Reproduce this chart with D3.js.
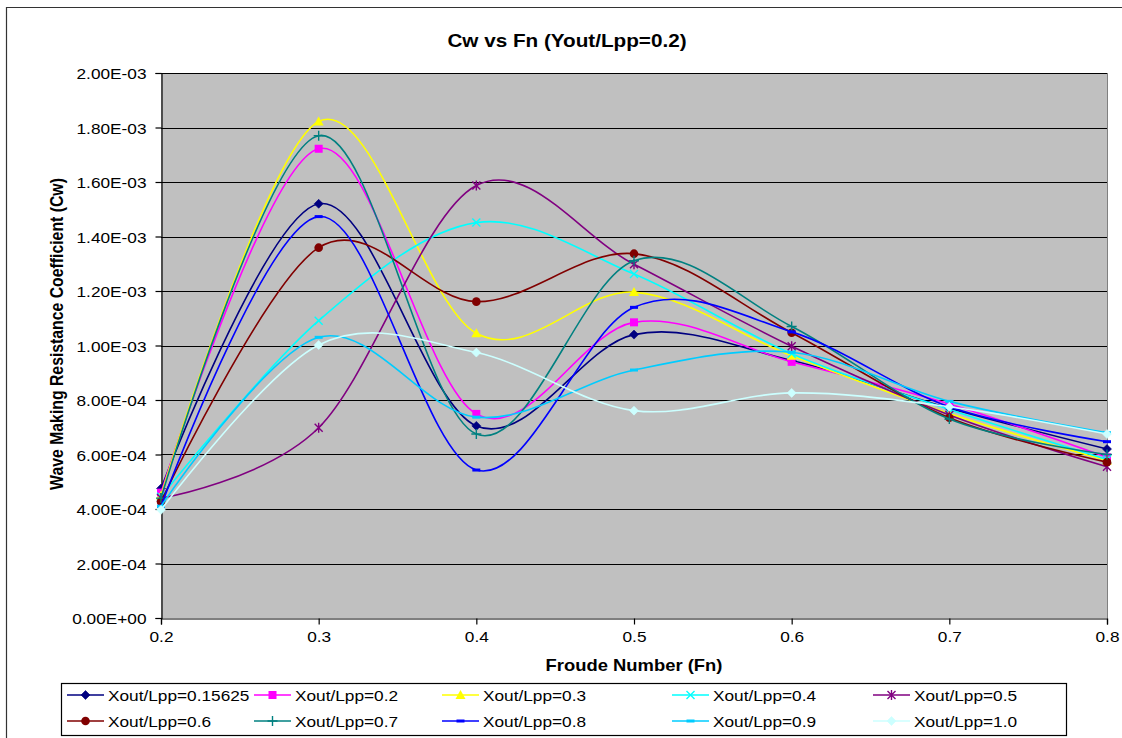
<!DOCTYPE html>
<html>
<head>
<meta charset="utf-8">
<script src="https://cdn.jsdelivr.net/npm/d3@7/dist/d3.min.js"></script>
<style>
  html, body { margin: 0; padding: 0; background: #fff; }
  svg { display: block; font-family: "Liberation Sans", Arial, sans-serif; }
</style>
</head>
<body>
<svg id="chart" width="1122" height="738"></svg>
<script>
// Froude numbers (x categories)
const froude = [0.2, 0.3, 0.4, 0.5, 0.6, 0.7, 0.8];

// Wave making resistance coefficient Cw per Xout/Lpp position
const cw015625 = [4.75e-4, 1.520e-3, 7.05e-4, 1.040e-3, 9.45e-4, 7.70e-4, 6.20e-4];
const cw02     = [4.60e-4, 1.722e-3, 7.49e-4, 1.085e-3, 9.40e-4, 7.85e-4, 5.90e-4];
const cw03     = [4.50e-4, 1.822e-3, 1.045e-3, 1.196e-3, 9.62e-4, 7.50e-4, 5.78e-4];
const cw04     = [4.45e-4, 1.091e-3, 1.451e-3, 1.262e-3, 9.70e-4, 7.65e-4, 5.82e-4];
const cw05     = [4.40e-4, 6.98e-4, 1.587e-3, 1.298e-3, 9.97e-4, 7.45e-4, 5.55e-4];
const cw06     = [4.27e-4, 1.359e-3, 1.161e-3, 1.337e-3, 1.047e-3, 7.35e-4, 5.72e-4];
const cw07     = [4.40e-4, 1.770e-3, 6.75e-4, 1.311e-3, 1.070e-3, 7.30e-4, 6.00e-4];
const cw08     = [4.10e-4, 1.473e-3, 5.43e-4, 1.140e-3, 1.050e-3, 7.75e-4, 6.47e-4];
const cw09     = [4.10e-4, 1.030e-3, 7.37e-4, 9.10e-4, 9.75e-4, 7.95e-4, 6.80e-4];
const cw10     = [3.97e-4, 1.002e-3, 9.74e-4, 7.61e-4, 8.26e-4, 7.75e-4, 6.75e-4];

const seriesNames = ["Xout/Lpp=0.15625", "Xout/Lpp=0.2", "Xout/Lpp=0.3", "Xout/Lpp=0.4", "Xout/Lpp=0.5",
                     "Xout/Lpp=0.6", "Xout/Lpp=0.7", "Xout/Lpp=0.8", "Xout/Lpp=0.9", "Xout/Lpp=1.0"];
const seriesValues = [cw015625, cw02, cw03, cw04, cw05, cw06, cw07, cw08, cw09, cw10];

// Axis ticks
const yTicks = [0, 2e-4, 4e-4, 6e-4, 8e-4, 1e-3, 1.2e-3, 1.4e-3, 1.6e-3, 1.8e-3, 2e-3];
const yTickLabels = ["0.00E+00", "2.00E-04", "4.00E-04", "6.00E-04", "8.00E-04", "1.00E-03",
                     "1.20E-03", "1.40E-03", "1.60E-03", "1.80E-03", "2.00E-03"];
const xTicks = [0.2, 0.3, 0.4, 0.5, 0.6, 0.7, 0.8];
const xTickLabels = ["0.2", "0.3", "0.4", "0.5", "0.6", "0.7", "0.8"];

const colors = ["#000080", "#FF00FF", "#FFFF00", "#00FFFF", "#800080",
                "#800000", "#008080", "#0000FF", "#00CCFF", "#CCFFFF"];
const markerKinds = ["diamond", "square", "triangle", "x", "star",
                     "circle", "plus", "dash", "dash", "diamond"];

const svg = d3.select("#chart");
const SX = 1.15; // horizontal text stretch

const plot = { left: 161, right: 1107, top: 73, bottom: 618 };
const x = d3.scaleLinear().domain([0.2, 0.8]).range([plot.left, plot.right]);
const y = d3.scaleLinear().domain([0, 2e-3]).range([plot.bottom, plot.top]);

function stretchedText(parent, tx, ty, str, opts) {
  return parent.append("text")
    .attr("transform", `translate(${tx},${ty}) scale(${SX},1)`)
    .attr("text-anchor", opts.anchor || "start")
    .attr("font-size", opts.size || 15)
    .attr("font-weight", opts.weight || "normal")
    .attr("fill", "#000")
    .text(str);
}

// chart frame
svg.append("path").attr("d", "M6.5,1200 V7.5 H1200")
  .attr("fill", "none").attr("stroke", "#333").attr("stroke-width", 1.2);

// plot background
svg.append("rect")
  .attr("x", plot.left).attr("y", plot.top)
  .attr("width", plot.right - plot.left).attr("height", plot.bottom - plot.top)
  .attr("fill", "#C0C0C0");
svg.append("line")
  .attr("x1", plot.right + 0.5).attr("x2", plot.right + 0.5)
  .attr("y1", plot.top).attr("y2", plot.bottom)
  .attr("stroke", "#808080").attr("stroke-width", 1);

// gridlines
svg.append("g").selectAll("line").data(yTicks.filter(d => d > 0)).join("line")
  .attr("x1", plot.left).attr("x2", plot.right)
  .attr("y1", d => Math.round(y(d)) + 0.5).attr("y2", d => Math.round(y(d)) + 0.5)
  .attr("stroke", "#000").attr("stroke-width", 1.2);

// y axis
const yAxis = svg.append("g")
  .attr("transform", `translate(${plot.left + 0.5},0)`)
  .call(d3.axisLeft(y).tickValues(yTicks).tickSize(6).tickPadding(0)
        .tickFormat((d, i) => yTickLabels[i]));
yAxis.select(".domain").attr("stroke", "#000").attr("stroke-width", 1.2);
yAxis.selectAll(".tick line").attr("stroke", "#000").attr("stroke-width", 1.2);
yAxis.selectAll(".tick text")
  .attr("x", null).attr("dy", null)
  .attr("font-size", 15).attr("font-family", "Liberation Sans, Arial, sans-serif")
  .attr("fill", "#000").attr("text-anchor", "end")
  .attr("transform", `translate(-15,5.5) scale(${SX},1)`);

// x axis
const xAxis = svg.append("g")
  .attr("transform", `translate(0,${plot.bottom + 0.5})`)
  .call(d3.axisBottom(x).tickValues(xTicks).tickSize(6).tickPadding(0)
        .tickFormat((d, i) => xTickLabels[i]));
xAxis.select(".domain").attr("stroke", "#000").attr("stroke-width", 1.2);
xAxis.selectAll(".tick line").attr("stroke", "#000").attr("stroke-width", 1.2);
xAxis.selectAll(".tick text")
  .attr("y", null).attr("dy", null)
  .attr("font-size", 15).attr("font-family", "Liberation Sans, Arial, sans-serif")
  .attr("fill", "#000").attr("text-anchor", "middle")
  .attr("transform", `translate(0,23) scale(${SX},1)`);

// titles
stretchedText(svg, 567, 47, "Cw vs Fn (Yout/Lpp=0.2)", { anchor: "middle", size: 18, weight: "bold" });
stretchedText(svg, 634, 671, "Froude Number (Fn)", { anchor: "middle", size: 16, weight: "bold" });
svg.append("text")
  .attr("transform", `translate(63,334) rotate(-90) scale(1,${SX})`)
  .attr("text-anchor", "middle").attr("font-size", 15.8).attr("font-weight", "bold")
  .text("Wave Making Resistance Coefficient (Cw)");

// marker drawing
function drawMarker(g, kind, color, cx, cy) {
  const s = 4.5;
  switch (kind) {
    case "diamond":
      g.append("path").attr("d", `M${cx},${cy - s} L${cx + s},${cy} L${cx},${cy + s} L${cx - s},${cy} Z`)
        .attr("fill", color).attr("stroke", color).attr("stroke-width", 0.6);
      break;
    case "square":
      g.append("rect").attr("x", cx - 4).attr("y", cy - 4).attr("width", 8).attr("height", 8)
        .attr("fill", color);
      break;
    case "triangle":
      g.append("path").attr("d", `M${cx},${cy - 5} L${cx + 5},${cy + 4} L${cx - 5},${cy + 4} Z`)
        .attr("fill", color);
      break;
    case "circle":
      g.append("circle").attr("cx", cx).attr("cy", cy).attr("r", 4.3).attr("fill", color);
      break;
    case "x":
      g.append("path").attr("d", `M${cx - 4},${cy - 4} L${cx + 4},${cy + 4} M${cx + 4},${cy - 4} L${cx - 4},${cy + 4}`)
        .attr("stroke", color).attr("stroke-width", 1.4).attr("fill", "none");
      break;
    case "star":
      g.append("path").attr("d", `M${cx - 4},${cy - 4} L${cx + 4},${cy + 4} M${cx + 4},${cy - 4} L${cx - 4},${cy + 4} M${cx},${cy - 5} V${cy + 5}`)
        .attr("stroke", color).attr("stroke-width", 1.4).attr("fill", "none");
      break;
    case "plus":
      g.append("path").attr("d", `M${cx - 5},${cy} H${cx + 5} M${cx},${cy - 5} V${cy + 5}`)
        .attr("stroke", color).attr("stroke-width", 1.4).attr("fill", "none");
      break;
    case "dash":
      g.append("rect").attr("x", cx - 4).attr("y", cy - 1.5).attr("width", 8).attr("height", 3)
        .attr("fill", color);
      break;
  }
}

// series lines (smoothed) and markers
const line = d3.line()
  .x(d => x(d[0])).y(d => y(d[1]))
  .curve(d3.curveCardinal.tension(0));

const seriesG = svg.append("g");
seriesValues.forEach((vals, i) => {
  const pts = froude.map((f, j) => [f, vals[j]]);
  const g = seriesG.append("g");
  g.append("path").attr("d", line(pts))
    .attr("fill", "none").attr("stroke", colors[i]).attr("stroke-width", 1.6);
  pts.forEach(p => drawMarker(g, markerKinds[i], colors[i], x(p[0]), y(p[1])));
});

// legend
const legend = svg.append("g");
legend.append("rect").attr("x", 61.5).attr("y", 683.5).attr("width", 1005).attr("height", 52)
  .attr("fill", "#fff").attr("stroke", "#000").attr("stroke-width", 1.2);
const legendCols = [67, 254, 442, 672, 873];
const legendRows = [695, 721];
seriesNames.forEach((name, i) => {
  const col = i % 5, row = Math.floor(i / 5);
  const lx = legendCols[col], ly = legendRows[row];
  const g = legend.append("g");
  g.append("line").attr("x1", lx).attr("x2", lx + 37).attr("y1", ly).attr("y2", ly)
    .attr("stroke", colors[i]).attr("stroke-width", 1.6);
  drawMarker(g, markerKinds[i], colors[i], lx + 18.5, ly);
  stretchedText(g, lx + 41, ly + 5.5, name, { size: 15 });
});
</script>
</body>
</html>
